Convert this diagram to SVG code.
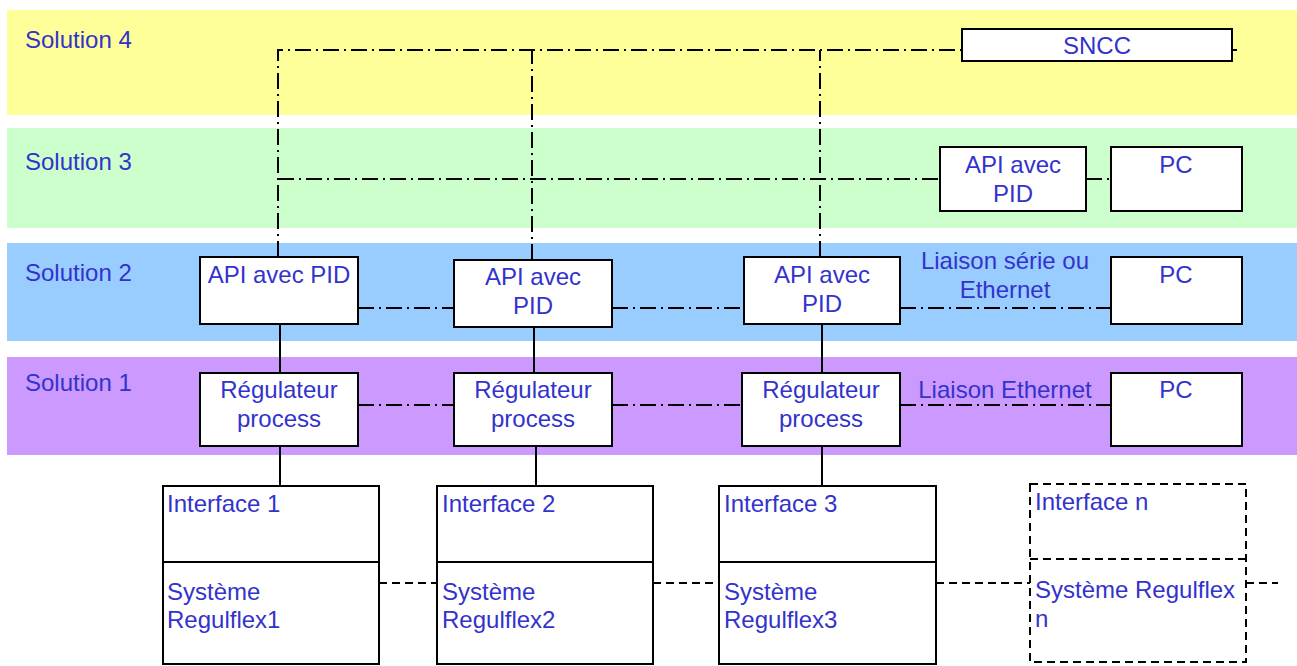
<svg xmlns="http://www.w3.org/2000/svg" width="1297" height="666" viewBox="0 0 1297 666">
<style>
.t{font-family:"Liberation Sans",Arial,sans-serif;font-size:24px;fill:#3333CC}
.c{text-anchor:middle}
.box{fill:#fff;stroke:#000;stroke-width:2}
.dbox{fill:#fff;stroke:#000;stroke-width:2;stroke-dasharray:8 5}
.dd{fill:none;stroke:#000;stroke-width:2;stroke-dasharray:16 5 2 5}
.sl{fill:none;stroke:#000;stroke-width:2}
.ds{fill:none;stroke:#000;stroke-width:2;stroke-dasharray:8 5}
</style>
<g id="bands">
<rect x="7" y="10" width="1290" height="105" fill="#FFFF99"/>
<rect x="7" y="128" width="1290" height="100" fill="#CCFFCC"/>
<rect x="7" y="243" width="1290" height="98" fill="#99CCFF"/>
<rect x="7" y="357" width="1290" height="98" fill="#CC99FF"/>
<text class="t" x="25" y="48">Solution 4</text>
<text class="t" x="25" y="170">Solution 3</text>
<text class="t" x="25" y="281">Solution 2</text>
<text class="t" x="25" y="391">Solution 1</text>
</g>
<g id="connectors">
<path class="dd" d="M278 257 V50 H962"/>
<path class="dd" d="M532 260 V50"/>
<path class="dd" d="M820 257 V50"/>
<path class="dd" d="M1232 50 H1237"/>
<path class="dd" d="M278 179 H940"/>
<path class="dd" d="M1086 179 H1111"/>
<path class="dd" d="M358 308 H454 M612 308 H744 M900 308 H1111"/>
<path class="dd" d="M358 405 H454 M612 405 H742 M900 405 H1111"/>
<path class="sl" d="M280 324 V373 M534 327 V373 M822 324 V373"/>
<path class="sl" d="M280 446 V486 M536 446 V486 M822 446 V486"/>
<path class="ds" d="M379 583 H437 M653 583 H719 M936 583 H1030 M1246 583 H1278"/>
</g>
<g id="sncc">
<rect class="box" x="962" y="29" width="270" height="32"/>
<text class="t c" x="1097" y="54">SNCC</text>
</g>
<g id="api3">
<rect class="box" x="940" y="147" width="146" height="64"/>
<text class="t c" x="1013" y="173">API avec</text>
<text class="t c" x="1013" y="202">PID</text>
</g>
<g id="pc3">
<rect class="box" x="1111" y="147" width="131" height="64"/>
<text class="t c" x="1176" y="173">PC</text>
</g>
<g id="api2a">
<rect class="box" x="200" y="257" width="158" height="67"/>
<text class="t c" x="279" y="283">API avec PID</text>
</g>
<g id="api2b">
<rect class="box" x="454" y="260" width="158" height="67"/>
<text class="t c" x="533" y="285">API avec</text>
<text class="t c" x="533" y="314">PID</text>
</g>
<g id="api2c">
<rect class="box" x="744" y="257" width="156" height="67"/>
<text class="t c" x="822" y="283">API avec</text>
<text class="t c" x="822" y="312">PID</text>
</g>
<g id="pc2">
<rect class="box" x="1111" y="257" width="131" height="67"/>
<text class="t c" x="1176" y="283">PC</text>
</g>
<g id="label2">
<text class="t c" x="1005" y="269">Liaison série ou</text>
<text class="t c" x="1005" y="298">Ethernet</text>
</g>
<g id="reg1">
<rect class="box" x="200" y="373" width="158" height="73"/>
<text class="t c" x="279" y="398">Régulateur</text>
<text class="t c" x="279" y="427">process</text>
</g>
<g id="reg2">
<rect class="box" x="454" y="373" width="158" height="73"/>
<text class="t c" x="533" y="398">Régulateur</text>
<text class="t c" x="533" y="427">process</text>
</g>
<g id="reg3">
<rect class="box" x="742" y="373" width="158" height="73"/>
<text class="t c" x="821" y="398">Régulateur</text>
<text class="t c" x="821" y="427">process</text>
</g>
<g id="pc1">
<rect class="box" x="1111" y="373" width="131" height="73"/>
<text class="t c" x="1176" y="398">PC</text>
</g>
<g id="label1">
<text class="t c" x="1005" y="398">Liaison Ethernet</text>
</g>
<g id="sys1">
<rect class="box" x="163" y="486" width="216" height="178"/>
<line class="sl" x1="163" y1="562" x2="379" y2="562"/>
<text class="t" x="167" y="512">Interface 1</text>
<text class="t" x="167" y="600">Système</text>
<text class="t" x="167" y="628">Regulflex1</text>
</g>
<g id="sys2">
<rect class="box" x="437" y="486" width="216" height="178"/>
<line class="sl" x1="437" y1="562" x2="653" y2="562"/>
<text class="t" x="442" y="512">Interface 2</text>
<text class="t" x="442" y="600">Système</text>
<text class="t" x="442" y="628">Regulflex2</text>
</g>
<g id="sys3">
<rect class="box" x="719" y="486" width="217" height="178"/>
<line class="sl" x1="719" y1="562" x2="936" y2="562"/>
<text class="t" x="724" y="512">Interface 3</text>
<text class="t" x="724" y="600">Système</text>
<text class="t" x="724" y="628">Regulflex3</text>
</g>
<g id="sysn">
<rect class="dbox" x="1030" y="484" width="216" height="178"/>
<line class="ds" x1="1030" y1="559" x2="1246" y2="559"/>
<text class="t" x="1035" y="510">Interface n</text>
<text class="t" x="1035" y="598">Système Regulflex</text>
<text class="t" x="1035" y="627">n</text>
</g>
</svg>
